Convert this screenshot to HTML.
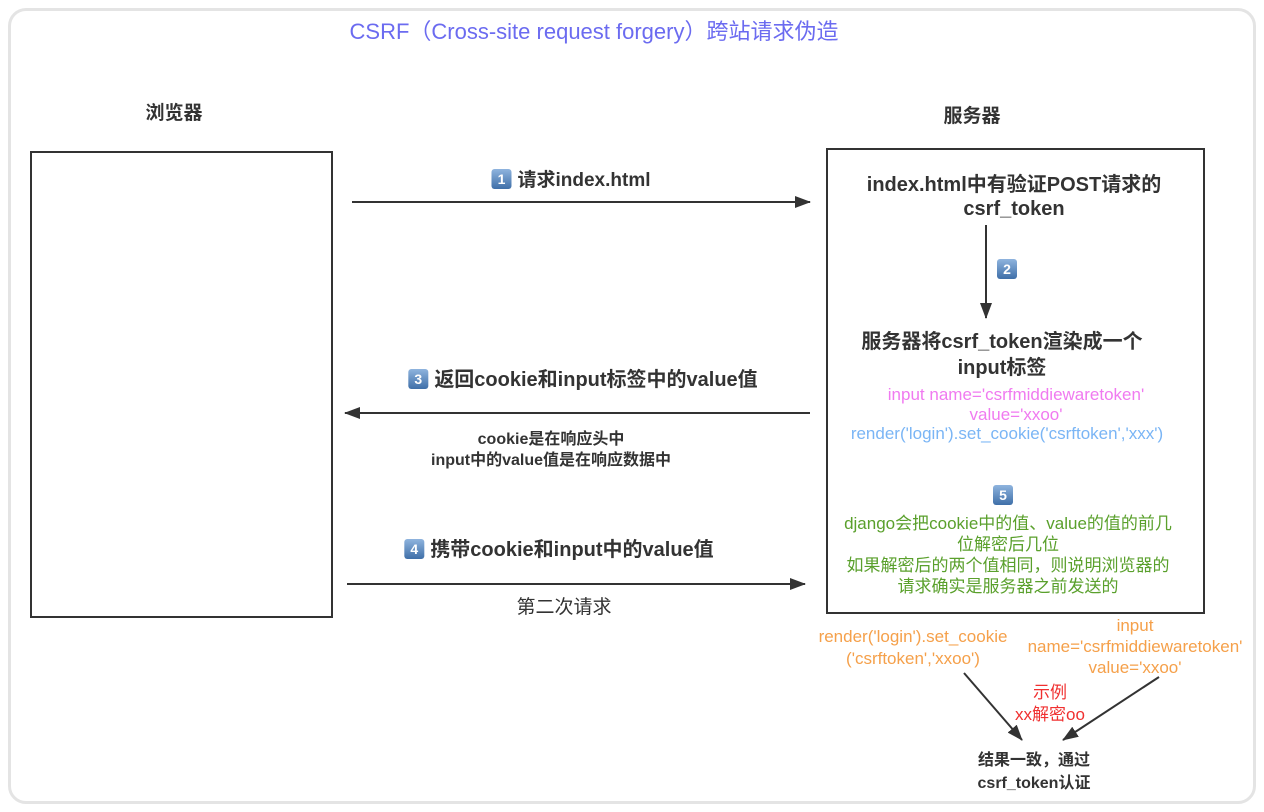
<!DOCTYPE html>
<html><head><meta charset="utf-8"><style>
body{margin:0;width:1264px;height:812px;background:#fff;position:relative;overflow:hidden;font-family:"Liberation Sans","Noto Sans CJK SC",sans-serif;color:#333}
.frame{position:absolute;left:8px;top:8px;width:1242px;height:790px;border:3px solid #e4e4e4;border-radius:18px;background:#fff}
.t{position:absolute;white-space:nowrap;text-align:center;transform:translateX(-50%)}
.b{font-weight:bold}
.badge{display:inline-block;width:20px;height:20px;border-radius:3px;background:linear-gradient(#8fb4de,#3f6fa8);color:#fff;font-size:14px;line-height:20px;text-align:center;font-weight:bold;vertical-align:2px;margin-right:6px}
.box{position:absolute;border:2px solid #333;background:#fff}
</style></head><body>
<div class="frame"></div>
<div class="box" style="left:30px;top:151px;width:299px;height:463px"></div>
<div class="box" style="left:826px;top:148px;width:375px;height:462px"></div>
<svg width="1264" height="812" style="position:absolute;left:0;top:0">
<defs><marker id="a2" markerWidth="16" markerHeight="12" refX="15" refY="6" orient="auto" markerUnits="userSpaceOnUse"><path d="M0,0 L16,6 L0,12 z" fill="#333"/></marker></defs>
<g stroke="#333" stroke-width="2">
<line x1="352" y1="202" x2="810" y2="202" marker-end="url(#a2)"/>
<line x1="810" y1="413" x2="345" y2="413" marker-end="url(#a2)"/>
<line x1="347" y1="584" x2="805" y2="584" marker-end="url(#a2)"/>
<line x1="986" y1="225" x2="986" y2="318" marker-end="url(#a2)"/>
<line x1="964" y1="673" x2="1022" y2="740" marker-end="url(#a2)"/>
<line x1="1159" y1="677" x2="1063" y2="740" marker-end="url(#a2)"/>
</g></svg>
<div class="t" style="left:594px;top:18px;font-size:22px;line-height:28px;color:#6b6bf0">CSRF（Cross-site request forgery）跨站请求伪造</div>
<div class="t b" style="left:174px;top:101px;font-size:19px;line-height:26px">浏览器</div>
<div class="t b" style="left:972px;top:104px;font-size:19px;line-height:26px">服务器</div>
<div class="t b" style="left:571px;top:167px;font-size:19px;line-height:28px"><span class="badge">1</span>请求index.html</div>
<div class="t b" style="left:1014px;top:173px;font-size:20px;line-height:24px">index.html中有验证POST请求的<br>csrf_token</div>
<div class="t" style="left:1010px;top:259px;line-height:22px"><span class="badge">2</span></div>
<div class="t b" style="left:1002px;top:329px;font-size:20px;line-height:26px">服务器将csrf_token渲染成一个<br>input标签</div>
<div class="t" style="left:1016px;top:385px;font-size:17px;color:#f07af0;line-height:20px">input name='csrfmiddiewaretoken'<br>value='xxoo'</div>
<div class="t" style="left:1007px;top:424px;font-size:17px;line-height:20px;color:#7ab5f5">render('login').set_cookie('csrftoken','xxx')</div>
<div class="t b" style="left:583px;top:366px;font-size:20px;line-height:28px"><span class="badge">3</span>返回cookie和input标签中的value值</div>
<div class="t b" style="left:551px;top:429px;font-size:16px;line-height:21px">cookie是在响应头中<br>input中的value值是在响应数据中</div>
<div class="t b" style="left:559px;top:536px;font-size:20px;line-height:28px"><span class="badge">4</span>携带cookie和input中的value值</div>
<div class="t" style="left:564px;top:595px;font-size:19px;line-height:26px">第二次请求</div>
<div class="t" style="left:1006px;top:485px;line-height:22px"><span class="badge">5</span></div>
<div class="t" style="left:1008px;top:513px;font-size:17px;color:#5aa02c;line-height:21px">django会把cookie中的值、value的值的前几<br>位解密后几位<br>如果解密后的两个值相同，则说明浏览器的<br>请求确实是服务器之前发送的</div>
<div class="t" style="left:913px;top:626px;font-size:17px;color:#f5a04a;line-height:22px">render('login').set_cookie<br>('csrftoken','xxoo')</div>
<div class="t" style="left:1135px;top:615px;font-size:17px;color:#f5a04a;line-height:21px">input<br>name='csrfmiddiewaretoken'<br>value='xxoo'</div>
<div class="t" style="left:1050px;top:682px;font-size:17px;color:#f03030;line-height:22px">示例<br>xx解密oo</div>
<div class="t b" style="left:1034px;top:749px;font-size:16px;line-height:23px">结果一致，通过<br>csrf_token认证</div>
</body></html>
